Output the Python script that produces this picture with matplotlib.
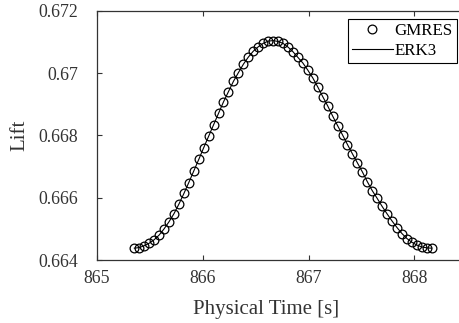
import matplotlib
matplotlib.use("Agg")
import matplotlib.pyplot as plt

# physical time [s] of the sampled points
time_s = [865.353, 865.400, 865.447, 865.494, 865.540, 865.587, 865.634, 865.681,
          865.728, 865.775, 865.822, 865.868, 865.915, 865.962, 866.009, 866.056,
          866.103, 866.150, 866.196, 866.243, 866.290, 866.337, 866.384, 866.431,
          866.478, 866.525, 866.571, 866.618, 866.665, 866.712, 866.759, 866.806,
          866.853, 866.899, 866.946, 866.993, 867.040, 867.087, 867.134, 867.181,
          867.227, 867.274, 867.321, 867.368, 867.415, 867.462, 867.509, 867.555,
          867.602, 867.649, 867.696, 867.743, 867.790, 867.837, 867.883, 867.930,
          867.977, 868.024, 868.071, 868.118, 868.164]

# lift from the GMRES run (markers)
lift_gmres = [0.66438, 0.66440, 0.66446, 0.66454, 0.66465, 0.66480, 0.66500, 0.66523,
              0.66549, 0.66580, 0.66614, 0.66649, 0.66686, 0.66723, 0.66761, 0.66798,
              0.66835, 0.66872, 0.66908, 0.66941, 0.66974, 0.67002, 0.67029, 0.67052,
              0.67071, 0.67085, 0.67096, 0.67103, 0.67105, 0.67102, 0.67096, 0.67084,
              0.67069, 0.67051, 0.67033, 0.67010, 0.66985, 0.66956, 0.66925, 0.66895,
              0.66863, 0.66832, 0.66802, 0.66771, 0.66741, 0.66712, 0.66683, 0.66652,
              0.66623, 0.66598, 0.66572, 0.66548, 0.66525, 0.66504, 0.66485, 0.66469,
              0.66457, 0.66448, 0.66442, 0.66439, 0.66438]

# lift from the ERK3 run (line) - identical to plotting accuracy
lift_erk3 = list(lift_gmres)

x_ticks = [865, 866, 867, 868]
y_ticks = [0.664, 0.666, 0.668, 0.670, 0.672]
y_tick_labels = ["0.664", "0.666", "0.668", "0.67", "0.672"]

plt.rcParams['font.family'] = ['Liberation Serif', 'DejaVu Serif']

fig = plt.figure(figsize=(4.59, 3.23), dpi=100)
ax = fig.add_axes([0.2113, 0.195, 0.8066, 0.771])

ax.plot(time_s, lift_gmres, linestyle='none', marker='o', markersize=6.3,
        markerfacecolor='none', markeredgecolor='black', markeredgewidth=0.9,
        label='GMRES')
ax.plot(time_s, lift_erk3, color='black', linewidth=0.8, label='ERK3')

ax.set_xlim(865, 868.5)
ax.set_ylim(0.664, 0.672)
ax.set_xticks(x_ticks)
ax.set_yticks(y_ticks)
ax.set_yticklabels(y_tick_labels)
ax.tick_params(direction='in', length=3.5, width=0.8, labelsize=12.8,
               top=True, right=True, colors='#333333')
ax.tick_params(axis='x', pad=7)
ax.tick_params(axis='y', pad=13.5)
for s in ax.spines.values():
    s.set_linewidth(0.9)
    s.set_color('#333333')

ax.set_xlabel('Physical Time [s]', fontsize=15, color='#333333')
ax.xaxis.set_label_coords(0.456, -0.162)
ax.set_ylabel('Lift', fontsize=15, color='#333333')
ax.yaxis.set_label_coords(-0.183, 0.5)

leg = ax.legend(loc='upper right', bbox_to_anchor=(0.995, 0.941),
                bbox_transform=fig.transFigure, borderaxespad=0,
                fontsize=12.2, fancybox=False, framealpha=1, edgecolor='black',
                handlelength=2.4, handletextpad=0.1, borderpad=0.25,
                labelspacing=0.2)
leg.get_frame().set_linewidth(0.8)

fig.savefig('out.png', dpi=100)
